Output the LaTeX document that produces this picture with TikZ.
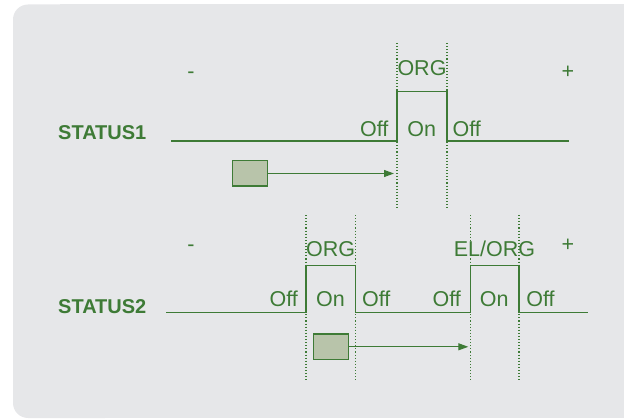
\documentclass[tikz,border=0pt]{standalone}
\usepackage{fontspec}
\setmainfont{Liberation Sans}
\usetikzlibrary{arrows.meta}
\definecolor{panel}{HTML}{E6E7E9}
\definecolor{wave}{HTML}{3E7B36}
\definecolor{boxfill}{HTML}{B8C4AA}

\begin{document}
\begin{tikzpicture}[x=1pt,y=-1pt,
  lbl/.style={text=wave,font=\fontsize{21.5}{25}\selectfont,inner sep=0pt,anchor=base},
  rowname/.style={text=wave,font=\bfseries\fontsize{20}{24}\selectfont,inner sep=0pt,anchor=base west},
  signal/.style={draw=wave,line width=1.3pt},
  marker/.style={draw=wave,line width=1.1pt,dash pattern=on 1.1pt off 2pt},
  trigger/.style={draw=wave,fill=boxfill,line width=1.5pt,minimum width=35pt,minimum height=25.5pt,inner sep=0pt},
  flow/.style={draw=wave,line width=1.1pt,-{Triangle[length=10pt,width=7pt]}}]

\useasboundingbox (0,0) rectangle (625,420);
% panel: rounded on the left, square on the right
\fill[panel,rounded corners=15pt] (13,4.5) rectangle (120,418);
\fill[panel] (60,4.5) rectangle (624,418);

% ---------- STATUS1 ----------
\node[rowname] (name1) at (58,140) {STATUS1};
\coordinate (s1a) at (171,141);
\coordinate (s1r) at (397,141);
\coordinate (s1f) at (447,91.7);
\coordinate (s1b) at (569,141);
\draw[signal] (s1a) -- (s1r) |- (s1f) |- (s1b);
\coordinate (m1at) at (397,43);  \coordinate (m1ab) at (397,209);
\coordinate (m1bt) at (447,43);  \coordinate (m1bb) at (447,209);
\draw[marker] (m1at) -- (m1ab);
\draw[marker] (m1bt) -- (m1bb);
\node[lbl] (org1)  at (422,75.3) {ORG};
\node[lbl] (off1a) at (374.2,136) {Off};
\node[lbl] (on1)   at (421.7,136) {On};
\node[lbl] (off1b) at (466.7,136) {Off};
\node[lbl] (minus1) at (191,78.4) {-};
\node[lbl] (plus1)  at (568,79) {+};
\node[trigger] (box1) at (250,173.5) {};
\coordinate (tip1) at (394,173.5);
\draw[flow] (box1.east) -- (tip1);

% ---------- STATUS2 ----------
\node[rowname] (name2) at (58,313.3) {STATUS2};
\coordinate (s2a) at (166,312.7);
\coordinate (s2r) at (306,312.7);
\coordinate (s2f) at (355.5,265.7);
\coordinate (s2r2) at (470.3,312.7);
\coordinate (s2f2) at (519,265.7);
\coordinate (s2b) at (588,312.7);
\draw[signal] (s2a) -- (s2r) |- (s2f) |- (s2r2) |- (s2f2) |- (s2b);
\foreach \mx/\mn in {306/a,355.5/b,470.3/c,519/d}{
  \coordinate (m2\mn t) at (\mx,215);
  \coordinate (m2\mn b) at (\mx,381.7);
  \draw[marker] (m2\mn t) -- (m2\mn b);
}
\node[lbl] (org2)  at (330.7,256.5) {ORG};
\node[lbl] (elorg) at (494.5,256) {EL/ORG};
\node[lbl] (off2a) at (283.7,306) {Off};
\node[lbl] (on2a)  at (330.5,306) {On};
\node[lbl] (off2b) at (376.2,306) {Off};
\node[lbl] (off2c) at (446.8,306) {Off};
\node[lbl] (on2b)  at (494.2,306) {On};
\node[lbl] (off2d) at (540.5,306) {Off};
\node[lbl] (minus2) at (191,251.7) {-};
\node[lbl] (plus2)  at (568,251.5) {+};
\node[trigger] (box2) at (331,346.8) {};
\coordinate (tip2) at (468.3,346.8);
\draw[flow] (box2.east) -- (tip2);
\end{tikzpicture}
\end{document}
